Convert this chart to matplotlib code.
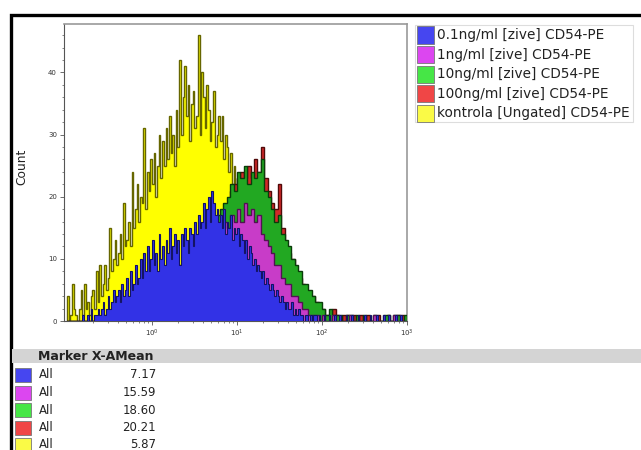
import matplotlib
matplotlib.use("Agg")
import matplotlib.pyplot as plt
import numpy as np
from matplotlib.patches import Rectangle

# log-spaced bins 10^-1 .. 10^3: fine (50/decade) for the two spikiest
# series, coarse (25/decade) for the others
fine_edges = np.logspace(-1, 3, 201)
coarse_edges = np.logspace(-1, 3, 101)

labels = [
    "0.1ng/ml [zive] CD54-PE",
    "1ng/ml [zive] CD54-PE",
    "10ng/ml [zive] CD54-PE",
    "100ng/ml [zive] CD54-PE",
    "kontrola [Ungated] CD54-PE",
]
means = ["7.17", "15.59", "18.60", "20.21", "5.87"]

blue = [0, 0, 0, 0, 0, 0, 0, 0, 0, 1,
        0, 0, 1, 0, 2, 0, 1, 1, 2, 1,
        2, 3, 1, 2, 4, 2, 3, 5, 3, 4,
        5, 3, 6, 4, 5, 7, 4, 8, 5, 6,
        9, 6, 7, 10, 7, 11, 8, 12, 8, 10,
        13, 9, 11, 8, 14, 10, 12, 9, 13, 11,
        15, 10, 12, 14, 11, 13, 9, 14, 12, 15,
        13, 11, 15, 14, 12, 16, 14, 17, 15, 16,
        19, 15, 18, 20, 16, 21, 19, 17, 18, 16,
        17, 15, 18, 14, 16, 15, 17, 13, 15, 14,
        15, 12, 14, 13, 11, 13, 10, 12, 11, 9,
        10, 8, 9, 8, 7, 8, 6, 7, 6, 5,
        6, 5, 4, 5, 4, 3, 4, 3, 2, 3,
        2, 2, 3, 1, 2, 1, 2, 1, 1, 0,
        1, 1, 0, 1, 0, 1, 1, 0, 1, 0,
        0, 1, 0, 0, 1, 0, 0, 1, 0, 0,
        1, 0, 0, 0, 1, 0, 0, 1, 0, 0,
        0, 1, 0, 0, 0, 1, 0, 0, 1, 0,
        0, 0, 1, 0, 0, 0, 1, 0, 0, 1,
        0, 0, 0, 1, 0, 0, 1, 0, 0, 0]

magenta = [0, 0, 0, 0, 0, 0, 0, 0, 0, 0,
           0, 1, 0, 1, 1, 1, 2, 1, 2, 3,
           2, 3, 4, 3, 5, 4, 6, 5, 7, 6,
           8, 7, 9, 8, 10, 9, 11, 10, 12, 11,
           13, 12, 14, 13, 15, 14, 16, 15, 17, 16,
           18, 16, 19, 17, 18, 16, 17, 14, 13, 12,
           11, 9, 9, 7, 6, 6, 4, 4, 3, 2,
           2, 1, 1, 1, 0, 1, 0, 0, 1, 0,
           0, 0, 0, 1, 0, 0, 0, 0, 0, 0,
           1, 0, 0, 0, 0, 0, 1, 0, 0, 0]

green = [0, 0, 0, 0, 0, 0, 0, 0, 0, 0,
         0, 0, 1, 0, 0, 1, 1, 1, 2, 2,
         2, 3, 3, 4, 4, 5, 5, 6, 6, 7,
         8, 8, 9, 9, 10, 11, 11, 12, 13, 13,
         14, 15, 15, 16, 17, 18, 19, 20, 22, 21,
         24, 23, 25, 22, 24, 23, 24, 26, 21, 20,
         18, 16, 17, 14, 13, 12, 10, 9, 8, 6,
         6, 5, 4, 3, 3, 2, 1, 2, 1, 1,
         1, 0, 1, 1, 0, 1, 0, 1, 0, 0,
         1, 0, 0, 1, 1, 0, 1, 1, 0, 1]

red = [0, 0, 0, 0, 0, 0, 0, 0, 0, 0,
       0, 0, 0, 0, 0, 0, 0, 0, 1, 1,
       1, 2, 2, 3, 3, 4, 4, 5, 5, 6,
       7, 7, 8, 8, 9, 10, 10, 11, 12, 12,
       13, 14, 14, 15, 16, 17, 18, 19, 21, 22,
       23, 24, 23, 25, 23, 26, 24, 28, 23, 21,
       19, 18, 22, 15, 12, 11, 10, 8, 7, 6,
       5, 4, 4, 3, 2, 2, 1, 1, 2, 1,
       0, 1, 1, 0, 1, 0, 1, 0, 1, 0,
       0, 1, 0, 0, 1, 0, 0, 1, 1, 0]

yellow = [4, 0, 1, 6, 2, 1, 0, 2, 5, 1,
          6, 2, 3, 1, 4, 5, 2, 8, 3, 9,
          4, 6, 9, 5, 7, 15, 8, 10, 13, 9,
          11, 14, 10, 19, 12, 13, 16, 12, 24, 15,
          18, 22, 16, 20, 19, 31, 18, 24, 21, 26,
          22, 27, 20, 25, 30, 23, 29, 25, 31, 26,
          33, 27, 30, 25, 34, 28, 42, 30, 36, 41,
          33, 38, 29, 35, 37, 31, 33, 46, 30, 40,
          36, 31, 38, 34, 29, 32, 37, 28, 30, 33,
          29, 33, 26, 30, 28, 24, 27, 22, 25, 21,
          23, 19, 21, 17, 19, 15, 16, 13, 14, 12,
          11, 10, 9, 8, 8, 6, 6, 5, 4, 4,
          3, 3, 2, 2, 2, 1, 1, 1, 1, 0,
          0, 1, 0, 0, 0, 0, 0, 0, 0, 0,
          0, 0, 0, 0, 0, 0, 0, 0, 0, 0,
          0, 0, 0, 0, 0, 0, 0, 0, 0, 0,
          0, 0, 0, 0, 0, 0, 0, 0, 0, 0,
          0, 0, 0, 0, 0, 0, 0, 0, 0, 0,
          0, 0, 0, 0, 0, 0, 0, 0, 0, 0,
          0, 0, 0, 0, 0, 0, 0, 0, 0, 0]

# fill / outline / swatch colours per series (legend order)
fill_colors = ["#3232e6", "#c83cc8", "#22a822", "#d22828", "#ffff00"]
edge_colors = ["#141464", "#501450", "#0a3c0a", "#500a0a", "#666600"]
edge_widths = [0.8, 1.0, 1.0, 1.0, 1.0]
swatch_colors = ["#4646f0", "#dc46f0", "#46e646", "#f04646", "#fafa46"]
series = [blue, magenta, green, red, yellow]
edges = [fine_edges, coarse_edges, coarse_edges, coarse_edges, fine_edges]

W, H = 641, 450
fig = plt.figure(figsize=(W / 100, H / 100), dpi=100)


def fx(px):
    return px / W


def fy(py):
    return 1 - py / H


# outer black frame (runs off the right and bottom of the picture)
fig.add_artist(Rectangle((fx(11), -0.2), 1.2, fy(15) + 0.2, transform=fig.transFigure,
                         fill=False, edgecolor="black", linewidth=2.4))

ax = fig.add_axes([fx(64), fy(321), fx(407) - fx(64), fy(24) - fy(321)])

# back to front: kontrola, 100, 10, 1, 0.1
for k in [4, 3, 2, 1, 0]:
    ax.stairs(series[k], edges[k], fill=True, color=fill_colors[k], zorder=2 + (4 - k))
    ax.stairs(series[k], edges[k], fill=False, color=edge_colors[k],
              linewidth=edge_widths[k], zorder=2.5 + (4 - k))

ax.set_xscale("log")
ax.set_xlim(10 ** -1.035, 1000)
ax.set_ylim(0, 47.8)
ax.set_yticks([0, 10, 20, 30, 40])
ax.set_yticks(np.arange(0, 48, 2), minor=True)
ax.set_xticks([1, 10, 100, 1000])
ax.set_xticklabels([r"$10^0$", r"$10^1$", r"$10^2$", r"$10^3$"])
ax.tick_params(axis="both", which="major", labelsize=5, length=3, width=0.6,
               colors="#555555", labelcolor="#333333", pad=2)
ax.tick_params(axis="both", which="minor", length=1.5, width=0.5, colors="#555555")
for side in ["top", "right"]:
    ax.spines[side].set_color("#999999")
    ax.spines[side].set_linewidth(1.2)
for side in ["left", "bottom"]:
    ax.spines[side].set_color("#555555")
    ax.spines[side].set_linewidth(0.8)

fig.text(fx(22), fy(167), "Count", rotation=90, ha="center", va="center",
         fontsize=8.8, color="#222222")

# legend box
fig.add_artist(Rectangle((fx(415), fy(122)), fx(633) - fx(415), fy(25) - fy(122),
                         transform=fig.transFigure, fill=False, edgecolor="#dddddd",
                         linewidth=0.8))
for k, lab in enumerate(labels):
    yc = 35 + 19.6 * k
    fig.add_artist(Rectangle((fx(417), fy(yc + 8.5)), fx(17), 17 / H,
                             transform=fig.transFigure, facecolor=swatch_colors[k],
                             edgecolor="#777777", linewidth=0.6))
    fig.text(fx(437), fy(yc), lab, ha="left", va="center", fontsize=9.8, color="#222222")

# statistics table
fig.add_artist(Rectangle((fx(12), fy(363)), 1.0, 14 / H, transform=fig.transFigure,
                         facecolor="#d4d4d4", edgecolor="none"))
fig.text(fx(38), fy(356), "Marker X-AMean", ha="left", va="center", fontsize=9,
         fontweight="bold", color="#222222")
for k, m in enumerate(means):
    yc = 375 + 17.5 * k
    fig.add_artist(Rectangle((fx(15), fy(yc + 7)), fx(16), 14 / H,
                             transform=fig.transFigure, facecolor=swatch_colors[k],
                             edgecolor="#777777", linewidth=0.6))
    fig.text(fx(39), fy(yc), "All", ha="left", va="center", fontsize=8.5, color="#222222")
    fig.text(fx(156), fy(yc), m, ha="right", va="center", fontsize=8.5, color="#222222")

fig.savefig("out.png", dpi=100)
